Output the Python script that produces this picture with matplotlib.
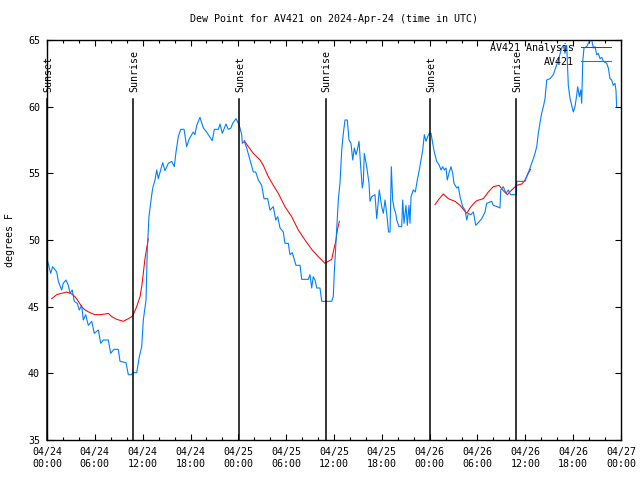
import datetime as dt
import matplotlib
matplotlib.use("Agg")
import matplotlib.pyplot as plt
from matplotlib.ticker import MultipleLocator

plt.rcParams['font.family'] = ['DejaVu Sans Mono']
plt.rcParams['font.size'] = 7.2

# hours since 2024-04-24 00:00 UTC
obs_h = [0.04, 0.46, 0.71, 1.22, 1.42, 1.84, 2.04, 2.38, 2.67, 2.89, 3.17, 3.42, 3.80, 4.05, 4.35,
         4.55, 4.85, 5.18, 5.61, 5.93, 6.44, 6.74, 7.06, 7.69, 7.99, 8.40, 8.94, 9.16, 9.91, 10.20,
         10.62, 10.75, 11.25, 11.58, 11.88, 12.08, 12.42, 12.58, 12.79, 13.05, 13.26, 13.55, 13.76,
         13.96, 14.26, 14.51, 14.80, 15.22, 15.64, 15.97, 16.18, 16.47, 16.77, 17.19, 17.52, 17.85,
         18.35, 18.56, 18.78, 19.19, 19.61, 20.03, 20.23, 20.73, 20.99, 21.49, 21.70, 21.99, 22.45,
         22.74, 23.08, 23.29, 23.71, 24.00, 24.21, 24.42, 24.50, 24.75, 25.05, 25.46, 25.88, 26.18,
         26.51, 26.93, 27.22, 27.68, 27.97, 28.39, 28.69, 28.94, 29.23, 29.64, 29.85, 30.27, 30.48,
         30.77, 31.23, 31.74, 31.95, 32.78, 32.99, 33.20, 33.40, 33.62, 33.83, 34.24, 34.46, 35.71,
         35.91, 36.04, 36.34, 36.54, 36.75, 36.97, 37.17, 37.38, 37.67, 37.88, 38.13, 38.35, 38.55,
         38.76, 38.92, 39.14, 39.35, 39.55, 39.68, 39.80, 40.10, 40.39, 40.52, 40.73, 41.14, 41.36,
         41.68, 41.98, 42.19, 42.40, 42.61, 42.84, 43.03, 43.19, 43.36, 43.53, 43.74, 43.87, 44.15,
         44.49, 44.62, 44.78, 45.03, 45.20, 45.41, 45.53, 45.66, 45.95, 46.20, 46.45, 46.70, 46.91,
         47.13, 47.33, 47.54, 47.75, 47.95, 48.17, 48.38, 48.58, 48.88, 49.21, 49.42, 49.64, 49.84,
         50.05, 50.21, 50.46, 50.68, 50.89, 51.05, 51.39, 51.59, 51.81, 52.14, 52.43, 52.65, 52.85,
         53.15, 53.48, 53.78, 54.10, 54.53, 54.94, 55.15, 55.78, 55.98, 56.48, 56.82, 56.91, 57.24,
         57.58, 57.87, 58.14, 58.89, 58.91, 59.96, 60.17, 60.50, 60.80, 61.00, 61.21, 61.43, 61.63,
         61.84, 62.05, 62.26, 62.47, 62.68, 63.10, 63.51, 63.85, 64.14, 64.56, 64.76, 64.98, 65.19,
         65.39, 65.61, 65.82, 66.02, 66.23, 66.45, 66.57, 66.77, 66.95, 67.07, 67.20, 67.36, 67.70,
         68.02, 68.33, 68.53, 68.74, 68.95, 69.15, 69.37, 69.58, 69.78, 70.21, 70.41, 70.62, 70.83,
         71.03, 71.24, 71.37, 71.45]
obs_v = [48.5, 47.5, 48.0, 47.6, 46.9, 46.25, 46.75, 47.0, 46.6, 46.0, 46.25, 45.4, 45.25, 44.75, 45.1,
         44.0, 44.4, 43.6, 43.9, 43.0, 43.25, 42.25, 42.5, 42.5, 41.5, 41.8, 41.8, 40.9, 40.8, 39.9,
         39.9, 40.05, 40.05, 41.25, 42.0, 44.0, 45.5, 49.25, 51.75, 53.0, 53.9, 54.5, 55.25,
         54.6, 55.25, 55.8, 55.2, 55.75, 55.9, 55.5, 56.6, 57.75, 58.3, 58.3, 57.0, 57.6,
         58.1, 57.9, 58.6, 59.2, 58.4, 58.1, 57.9, 57.45, 58.3, 58.3, 58.7, 58.0, 58.7,
         58.3, 58.4, 58.75, 59.1, 58.75, 58.4, 57.9, 57.25, 57.4, 56.9, 56.0, 55.1, 55.1,
         54.5, 54.1, 53.1, 53.1, 52.25, 52.5, 51.5, 51.75, 50.9, 50.6, 49.75, 49.75, 48.9,
         49.05, 48.1, 48.1, 47.05, 47.05, 47.4, 46.4, 47.25, 47.0, 46.4, 46.4, 45.4, 45.4,
         45.75, 47.6, 50.9, 53.0, 54.25, 56.75, 58.0, 59.0, 59.0, 57.5, 57.25, 56.0, 56.9,
         56.4, 56.75, 57.4, 55.5, 53.9, 54.4, 56.5, 55.5, 54.25, 52.9, 53.25, 53.4, 51.6,
         53.75, 52.5, 52.0, 53.0, 52.0, 50.6, 50.6, 55.5, 53.0, 52.4, 52.0, 51.5, 51.0,
         51.0, 53.0, 51.25, 52.6, 51.1, 52.6, 51.25, 53.25, 53.75, 53.6, 54.5, 55.25, 56.0,
         56.75, 57.9, 57.4, 57.75, 58.0, 58.0, 57.25, 56.6, 55.9, 55.6, 55.25, 55.5, 55.25,
         55.4, 54.5, 55.1, 55.5, 55.0, 54.25, 53.9, 54.0, 53.25, 52.5, 52.25, 51.5, 52.0,
         51.9, 52.1, 51.1, 51.3, 51.6, 52.1, 52.75, 52.9, 52.6, 52.5, 52.4, 53.75, 54.0,
         53.5, 53.75, 53.4, 53.4, 54.4, 54.4, 54.75, 55.25, 55.75, 56.1, 56.5, 57.0, 58.0,
         58.8, 59.5, 60.0, 60.6, 62.0, 62.1, 62.4, 63.0, 63.5, 64.4, 64.6, 64.0, 64.6,
         61.6, 60.6, 60.1, 59.6, 60.0, 60.9, 61.5, 60.75, 61.25, 60.25, 63.4, 64.4, 64.5,
         64.9, 65.0, 64.4, 64.5, 63.9, 64.0, 63.6, 63.7, 63.4, 63.25, 62.9, 62.1, 62.0,
         61.6, 61.75, 61.25, 60.0]

# analysis, three separate night segments
ana1_h = [0.59, 1.22, 1.84, 2.47, 3.10, 3.51, 3.93, 4.35, 4.77, 5.39, 6.02, 6.65, 7.28, 7.69,
          8.12, 8.74, 9.57, 10.20, 10.75, 11.25, 11.67, 11.88, 12.08, 12.29, 12.51, 12.71]
ana1_v = [45.6, 45.9, 46.0, 46.1, 45.95, 45.75, 45.4, 45.0, 44.75, 44.55, 44.4, 44.4, 44.45, 44.5,
          44.25, 44.05, 43.9, 44.1, 44.3, 45.0, 45.75, 46.5, 47.5, 48.6, 49.4, 50.1]
ana2_h = [24.75, 25.25, 25.88, 26.72, 27.13, 27.76, 28.39, 29.01, 29.85, 30.69, 31.52, 32.36,
          33.20, 34.03, 34.87, 35.29, 35.71, 35.91, 36.25, 36.42, 36.67]
ana2_v = [57.45, 57.0, 56.5, 56.0, 55.6, 54.75, 54.1, 53.5, 52.5, 51.75, 50.75, 50.0,
          49.3, 48.75, 48.25, 48.4, 48.55, 49.1, 50.0, 50.75, 51.4]
ana3_h = [48.67, 49.08, 49.71, 50.34, 51.18, 51.81, 52.22, 52.65, 53.06, 53.48, 53.90, 54.73,
          55.36, 55.98, 56.70, 57.16, 57.74, 58.29, 58.92, 59.55, 59.96, 60.37, 60.67]
ana3_v = [52.65, 53.0, 53.45, 53.1, 52.9, 52.6, 52.3, 52.0, 52.4, 52.7, 52.95, 53.1,
          53.6, 54.0, 54.1, 53.75, 53.4, 53.75, 54.1, 54.2, 54.5, 55.0, 55.3]

sunset_h = [0.0, 24.1, 48.08]
sunrise_h = [10.83, 34.96, 58.87]

start = dt.datetime(2024, 4, 24)
blue = '#0080ff'
red = '#ff0000'

fig = plt.figure(figsize=(6.4, 4.8), dpi=100)
ax = fig.add_axes([47/640, 1-440/480, 574/640, 400/480])

ln_a, = ax.plot(ana1_h, ana1_v, color=red, lw=0.75, label='AV421 Analysis')
ax.plot(ana2_h, ana2_v, color=red, lw=0.75)
ax.plot(ana3_h, ana3_v, color=red, lw=0.75)
ln_o, = ax.plot(obs_h, obs_v, color=blue, lw=0.8, label='AV421')

for h in sunset_h:
    ax.plot([h, h], [35, 60.6], color='black', lw=1.1, clip_on=False)
    ax.text(h + 0.15, 61.1, 'Sunset', rotation=90, ha='center', va='bottom')
for h in sunrise_h:
    ax.plot([h, h], [35, 60.6], color='black', lw=1.1)
    ax.text(h + 0.1, 61.1, 'Sunrise', rotation=90, ha='center', va='bottom')

ax.set_xlim(0, 72)
ax.set_ylim(35, 65)
ax.xaxis.set_major_locator(MultipleLocator(6))
ax.xaxis.set_minor_locator(MultipleLocator(2))
ax.yaxis.set_major_locator(MultipleLocator(5))
ticks = list(range(0, 73, 6))
ax.set_xticks(ticks)
ax.set_xticklabels([(start + dt.timedelta(hours=t)).strftime('%m/%d\n%H:%M') for t in ticks])
ax.tick_params(which='major', direction='in', length=4, width=0.8, top=True, right=True, pad=5)
ax.tick_params(which='minor', direction='in', length=2, width=0.8, top=True, right=True)
for s in ax.spines.values():
    s.set_linewidth(1.0)

ax.set_ylabel('degrees F')
ax.yaxis.set_label_coords(-0.0557, 0.5)
ax.set_title('Dew Point for AV421 on 2024-Apr-24 (time in UTC)', fontsize=7.2, pad=13)

ax.legend(handles=[ln_a, ln_o], loc='upper right', frameon=False, markerfirst=False,
          handlelength=3.0, handletextpad=0.7, labelspacing=0.4, borderaxespad=0,
          borderpad=0, bbox_to_anchor=((611-47)/574, 1-(43-40)/400), fontsize=7.2)

fig.savefig('out.png', dpi=100)
